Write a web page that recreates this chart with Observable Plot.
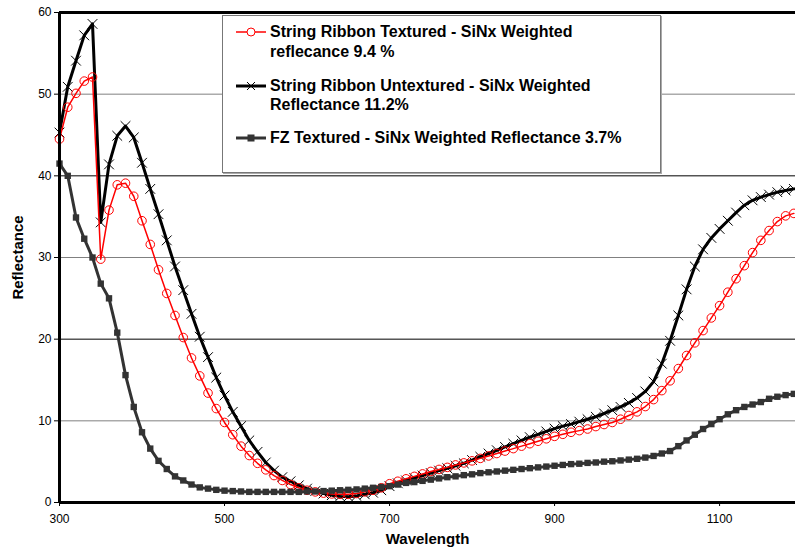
<!DOCTYPE html>
<html>
<head>
<meta charset="utf-8">
<script src="https://cdn.jsdelivr.net/npm/d3@7"></script>
<script src="https://cdn.jsdelivr.net/npm/@observablehq/plot@0.6"></script>
<style>
  html, body { margin: 0; padding: 0; background: #fff; }
  #wrap { position: relative; width: 795px; height: 552px; font-family: "Liberation Sans", Arial, sans-serif; }
  .lg { position: absolute; font: bold 16px "Liberation Sans", Arial, sans-serif; color: #000; line-height: 20px; white-space: nowrap; }
  #legendBox { position: absolute; left: 222px; top: 15px; width: 437px; height: 156px; border: 1px solid #777; box-shadow: 1px 1px 0 #aaa; background: #fff; }
  svg.sample { position: absolute; overflow: visible; }
</style>
</head>
<body>
<div id="wrap"></div>
<script>
const wavelength = [300,310,320,330,340,350,360,370,380,390,400,410,420,430,440,450,460,470,480,490,
  500,510,520,530,540,550,560,570,580,590,600,610,620,630,640,650,660,670,680,690,
  700,710,720,730,740,750,760,770,780,790,800,810,820,830,840,850,860,870,880,890,
  900,910,920,930,940,950,960,970,980,990,1000,1010,1020,1030,1040,1050,1060,1070,1080,1090,
  1100,1110,1120,1130,1140,1150,1160,1170,1180,1190];

const srTextured = [44.5,48.4,50.1,51.6,52.1,29.8,35.8,38.9,39.1,37.5,34.5,31.6,28.5,25.6,22.9,20.2,17.7,15.5,13.4,11.5,
  9.8,8.3,6.9,5.75,4.8,4.0,3.3,2.7,2.2,1.8,1.5,1.3,1.15,1.05,1.0,1.0,1.1,1.3,1.5,1.8,
  2.3,2.6,2.9,3.2,3.5,3.8,4.05,4.3,4.6,4.85,5.1,5.4,5.7,6.0,6.3,6.6,6.9,7.2,7.5,7.8,
  8.1,8.35,8.6,8.8,9.0,9.3,9.55,9.8,10.2,10.65,11.1,11.75,12.6,13.7,14.9,16.4,18.0,19.55,21.05,22.6,
  24.1,25.75,27.4,29.0,30.6,32.1,33.3,34.4,35.1,35.4];

const srUntextured = [45.3,50.9,54.1,57.2,58.6,34.3,41.4,44.9,46.1,44.7,41.6,38.4,35.3,32.1,28.9,26.0,23.1,20.3,17.8,15.3,
  13.1,11.1,9.35,7.6,6.2,4.9,3.9,3.1,2.6,2.1,1.7,1.4,1.1,0.9,0.75,0.7,0.8,1.0,1.2,1.5,
  2.0,2.35,2.7,3.0,3.3,3.6,3.9,4.2,4.5,4.8,5.2,5.6,6.0,6.4,6.8,7.2,7.6,8.0,8.35,8.7,
  9.05,9.35,9.6,9.9,10.2,10.5,10.9,11.3,11.7,12.2,12.8,13.6,14.8,17.0,19.8,22.9,26.1,28.9,31.0,32.4,
  33.5,34.5,35.5,36.4,37.0,37.4,37.7,38.0,38.2,38.4];

const fzTextured = [41.5,40.0,34.9,32.3,30.0,26.8,25.0,20.8,15.6,11.7,8.6,6.6,5.1,4.1,3.2,2.7,2.2,1.85,1.7,1.55,
  1.45,1.4,1.35,1.3,1.3,1.3,1.3,1.3,1.3,1.3,1.35,1.35,1.4,1.45,1.5,1.55,1.6,1.7,1.8,1.9,
  2.0,2.2,2.4,2.5,2.65,2.8,2.95,3.1,3.2,3.35,3.45,3.6,3.7,3.8,3.9,4.0,4.1,4.2,4.3,4.4,
  4.5,4.6,4.7,4.75,4.85,4.9,5.0,5.05,5.15,5.25,5.35,5.5,5.7,6.0,6.3,6.9,7.6,8.3,9.0,9.6,
  10.2,10.8,11.3,11.7,12.0,12.3,12.7,12.95,13.15,13.3];

const xTicks = [300,500,700,900,1100];
const yTicks = [0,10,20,30,40,50,60];
const gridDark = [20,40];
const gridGray = [10,30,50];

const seriesNames = [
  ["String Ribbon Textured - SiNx Weighted", "reflecance 9.4 %"],
  ["String Ribbon Untextured - SiNx Weighted", "Reflectance 11.2%"],
  ["FZ Textured - SiNx Weighted Reflectance 3.7%"]
];

const rows = (ys) => wavelength.map((w, i) => ({w, v: ys[i]}));
const red = rows(srTextured), blk = rows(srUntextured), fz = rows(fzTextured);

const chart = Plot.plot({
  width: 795,
  height: 552,
  marginLeft: 59,
  marginRight: 0,
  marginTop: 12,
  marginBottom: 50,
  style: {fontFamily: '"Liberation Sans", Arial, sans-serif', fontSize: "12px", color: "#000", background: "#fff", overflow: "visible"},
  x: {domain: [300, 1192]},
  y: {domain: [0, 60]},
  marks: [
    Plot.ruleY(gridGray, {stroke: "#808080", strokeWidth: 1}),
    Plot.ruleY(gridDark, {stroke: "#000", strokeWidth: 1}),
    Plot.ruleY([60], {stroke: "#000", strokeWidth: 3}),
    Plot.axisX({ticks: xTicks, tickSize: 4, tickPadding: 8, tickFormat: d => String(d), label: null, fontSize: 12}),
    Plot.axisY({ticks: yTicks, tickSize: 5, tickPadding: 3, tickFormat: d => String(d), label: null, fontSize: 12}),
    Plot.line(blk, {x: "w", y: "v", stroke: "#000", strokeWidth: 3}),
    Plot.dot(blk, {x: "w", y: "v", symbol: "times", r: 4.5, stroke: "#000", strokeWidth: 1}),
    Plot.line(red, {x: "w", y: "v", stroke: "#ff0000", strokeWidth: 1.5}),
    Plot.dot(red, {x: "w", y: "v", symbol: "circle", r: 4.3, stroke: "#ff0000", strokeWidth: 1, fill: "none"}),
    Plot.line(fz, {x: "w", y: "v", stroke: "#333", strokeWidth: 3}),
    Plot.dot(fz, {x: "w", y: "v", symbol: "square", r: 3.6, fill: "#333", stroke: "none"}),
    Plot.ruleX([300], {stroke: "#000", strokeWidth: 3}),
    Plot.ruleY([0], {stroke: "#000", strokeWidth: 3}),
    Plot.text(["Wavelength"], {frameAnchor: "bottom", dy: 41, textAnchor: "middle", fontWeight: "bold", fontSize: 15}),
    Plot.text(["Reflectance"], {frameAnchor: "left", dx: -41, rotate: -90, textAnchor: "middle", lineAnchor: "middle", fontWeight: "bold", fontSize: 15})
  ]
});

const wrap = document.getElementById("wrap");
wrap.appendChild(chart);

// Legend
const box = document.createElement("div");
box.id = "legendBox";
wrap.appendChild(box);

function sample(cy, kind) {
  const s = d3.create("svg").attr("class", "sample").attr("width", 34).attr("height", 14)
    .style("left", "234px").style("top", (cy - 7) + "px");
  if (kind === 0) {
    s.append("line").attr("x1", 2).attr("x2", 32).attr("y1", 7).attr("y2", 7).attr("stroke", "#ff0000").attr("stroke-width", 1.5);
    s.append("circle").attr("cx", 17).attr("cy", 7).attr("r", 4).attr("fill", "#fff").attr("stroke", "#ff0000").attr("stroke-width", 1);
  } else if (kind === 1) {
    s.append("line").attr("x1", 2).attr("x2", 32).attr("y1", 7).attr("y2", 7).attr("stroke", "#000").attr("stroke-width", 3);
    s.append("path").attr("d", "M13,3L21,11M21,3L13,11").attr("stroke", "#000").attr("stroke-width", 1);
  } else {
    s.append("line").attr("x1", 2).attr("x2", 32).attr("y1", 7).attr("y2", 7).attr("stroke", "#333").attr("stroke-width", 3);
    s.append("rect").attr("x", 13.5).attr("y", 3.5).attr("width", 7).attr("height", 7).attr("fill", "#333");
  }
  wrap.appendChild(s.node());
}
const entryY = [[32, 52], [86, 105], [138]];
seriesNames.forEach((lines, k) => {
  sample(entryY[k][0], k);
  lines.forEach((t, j) => {
    const d = document.createElement("div");
    d.className = "lg";
    d.style.left = "270px";
    d.style.top = (entryY[k][j] - 10) + "px";
    d.textContent = t;
    wrap.appendChild(d);
  });
});
</script>
</body>
</html>
